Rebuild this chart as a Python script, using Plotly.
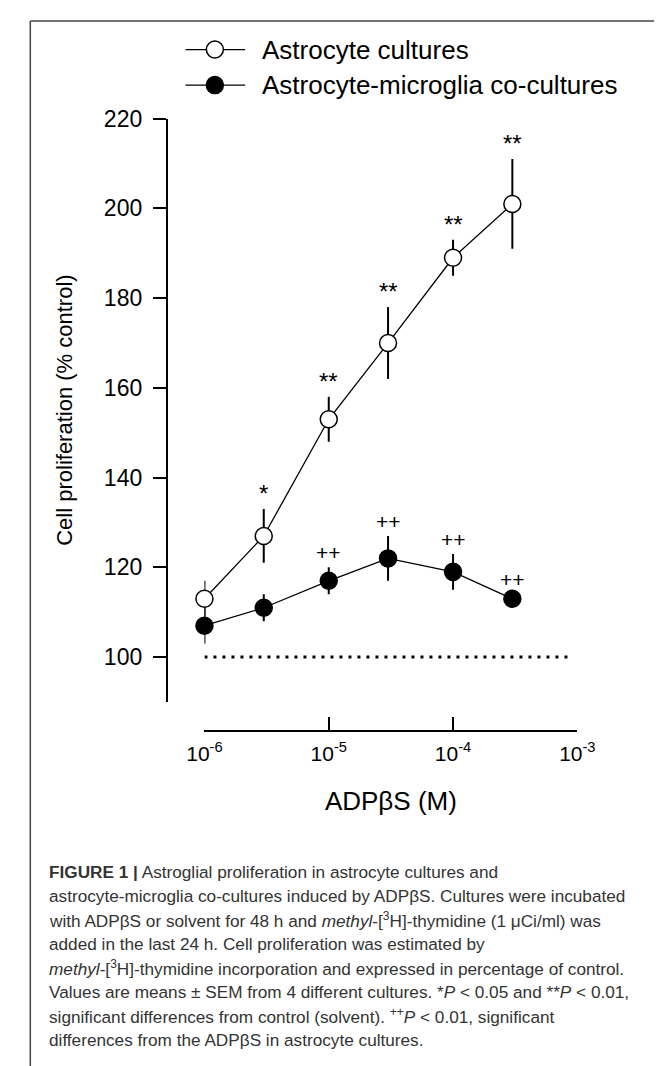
import numpy as np
import plotly.graph_objects as go

# ---------------- data ----------------
conc = [1e-6, 3e-6, 1e-5, 3e-5, 1e-4, 3e-4]          # ADPbS (M)
astro_mean = [113, 127, 153, 170, 189, 201]           # Astrocyte cultures (% control)
astro_sem = [4, 6, 5, 8, 4, 10]
astro_sig = ["", "*", "**", "**", "**", "**"]
co_mean = [107, 111, 117, 122, 119, 113]              # Astrocyte-microglia co-cultures
co_sem = [4, 3, 3, 5, 4, 1]
co_sig = ["", "", "++", "++", "++", "++"]
control_level = 100
control_span = [1e-6, 8.7e-4]
series_names = ["Astrocyte cultures", "Astrocyte-microglia co-cultures"]
x_tickvals = [1e-6, 1e-5, 1e-4, 1e-3]
x_ticktext = ["10<sup>-6</sup>", "10<sup>-5</sup>", "10<sup>-4</sup>", "10<sup>-3</sup>"]
y_tickvals = [100, 120, 140, 160, 180, 200, 220]

caption_lines = [
    "<b>FIGURE 1 |</b> Astroglial proliferation in astrocyte cultures and",
    "astrocyte-microglia co-cultures induced by ADPβS. Cultures were incubated",
    "with ADPβS or solvent for 48 h and <i>methyl</i>-[<sup>3</sup>H]-thymidine (1 μCi/ml) was",
    "added in the last 24 h. Cell proliferation was estimated by",
    "<i>methyl</i>-[<sup>3</sup>H]-thymidine incorporation and expressed in percentage of control.",
    "Values are means ± SEM from 4 different cultures. *<i>P</i> &lt; 0.05 and **<i>P</i> &lt; 0.01,",
    "significant differences from control (solvent). <sup>++</sup><i>P</i> &lt; 0.01, significant",
    "differences from the ADPβS in astrocyte cultures.",
]

# ---------------- layout helpers ----------------
W, H = 672, 1066
def fx(px):
    return px / W
def fy(py):
    return 1 - py / H

FONT = "Liberation Sans, Arial, Helvetica, sans-serif"

fig = go.Figure()

fig.add_trace(go.Scatter(
    x=control_span, y=[control_level] * len(control_span), mode="lines",
    line=dict(color="black", width=3, dash="3px,6px"), cliponaxis=False,
    showlegend=False, hoverinfo="skip"))

fig.add_trace(go.Scatter(
    x=conc, y=astro_mean, name=series_names[0], mode="lines+markers",
    line=dict(color="black", width=1.3), cliponaxis=False,
    marker=dict(symbol="circle", size=17, color="white", line=dict(color="black", width=1.5)),
    error_y=dict(type="data", array=astro_sem, visible=True, thickness=2, width=0, color="black"),
    showlegend=False))

fig.add_trace(go.Scatter(
    x=conc, y=co_mean, name=series_names[1], mode="lines+markers",
    line=dict(color="black", width=1.3), cliponaxis=False,
    marker=dict(symbol="circle", size=17, color="black", line=dict(color="black", width=1.5)),
    error_y=dict(type="data", array=co_sem, visible=True, thickness=2, width=0, color="black"),
    showlegend=False))

annotations = []
for xs, ms, es, labels, fsize, shift in [(conc, astro_mean, astro_sem, astro_sig, 24, 0),
                                         (conc, co_mean, co_sem, co_sig, 21, 1)]:
    for xv, mv, ev, lab in zip(xs, ms, es, labels):
        if lab:
            annotations.append(dict(
                x=np.log10(xv), y=mv + ev, xref="x", yref="y", text=lab, showarrow=False,
                yanchor="bottom", xanchor="center", yshift=shift,
                font=dict(family=FONT, size=fsize, color="black")))

# manual legend
legend_rows = [(37, "white"), (73, "black")]
shapes = []
for (ly, fill), name in zip(legend_rows, series_names):
    shapes.append(dict(type="line", xref="paper", yref="paper",
                       x0=fx(177), x1=fx(240), y0=fy(ly), y1=fy(ly),
                       line=dict(color="black", width=1.3)))
    shapes.append(dict(type="circle", xref="paper", yref="paper",
                       xsizemode="pixel", ysizemode="pixel",
                       xanchor=fx(208), yanchor=fy(ly),
                       x0=-8.5, x1=8.5, y0=-8.5, y1=8.5,
                       fillcolor=fill, line=dict(color="black", width=1.5)))
    annotations.append(dict(x=fx(256), y=fy(ly), xref="paper", yref="paper",
                            text=name, showarrow=False, xanchor="left", yanchor="middle",
                            font=dict(family=FONT, size=26, color="black")))

# frame lines
shapes.append(dict(type="line", xref="paper", yref="paper", x0=fx(13), x1=1, y0=fy(8), y1=fy(8),
                   line=dict(color="#444444", width=1.5)))
shapes.append(dict(type="line", xref="paper", yref="paper", x0=fx(13), x1=fx(13), y0=fy(8), y1=0,
                   line=dict(color="#444444", width=1.5)))

# caption
for i, line in enumerate(caption_lines):
    annotations.append(dict(x=fx(31), y=fy(870 + i * 24.2), xref="paper", yref="paper",
                            text=line, showarrow=False, xanchor="left", yanchor="middle",
                            align="left",
                            font=dict(family=FONT, size=17.2, color="#333333")))

fig.update_layout(
    width=W, height=H, autosize=False,
    margin=dict(l=0, r=0, t=0, b=0),
    paper_bgcolor="white", plot_bgcolor="white",
    font=dict(family=FONT, color="black"),
    showlegend=False,
    xaxis=dict(
        type="log", range=[-6, -3], domain=[fx(197), fx(591)],
        anchor="free", position=fy(727),
        showline=True, linecolor="black", linewidth=1.5,
        ticks="inside", ticklen=13, tickwidth=1.5, tickcolor="black",
        tickvals=x_tickvals, ticktext=x_ticktext, ticklabelstandoff=4,
        tickfont=dict(family=FONT, size=21, color="black"),
        showgrid=False, zeroline=False,
        title=dict(text="ADPβS (M)", font=dict(family=FONT, size=26, color="black"), standoff=27),
    ),
    yaxis=dict(
        range=[90.1, 220], domain=[fy(697), fy(107)],
        anchor="free", position=fx(157),
        showline=True, linecolor="black", linewidth=1.5,
        ticks="outside", ticklen=13, tickwidth=1.5, tickcolor="black",
        tickvals=y_tickvals, ticklabelstandoff=6,
        tickfont=dict(family=FONT, size=23, color="black"),
        showgrid=False, zeroline=False,
        title=dict(text="Cell proliferation (% control)", font=dict(family=FONT, size=22, color="black"), standoff=24),
    ),
    shapes=shapes,
    annotations=annotations,
)

fig.write_html("out.html", config={"displayModeBar": False},
               post_script="document.body.style.margin='0';document.body.style.overflow='hidden';")
